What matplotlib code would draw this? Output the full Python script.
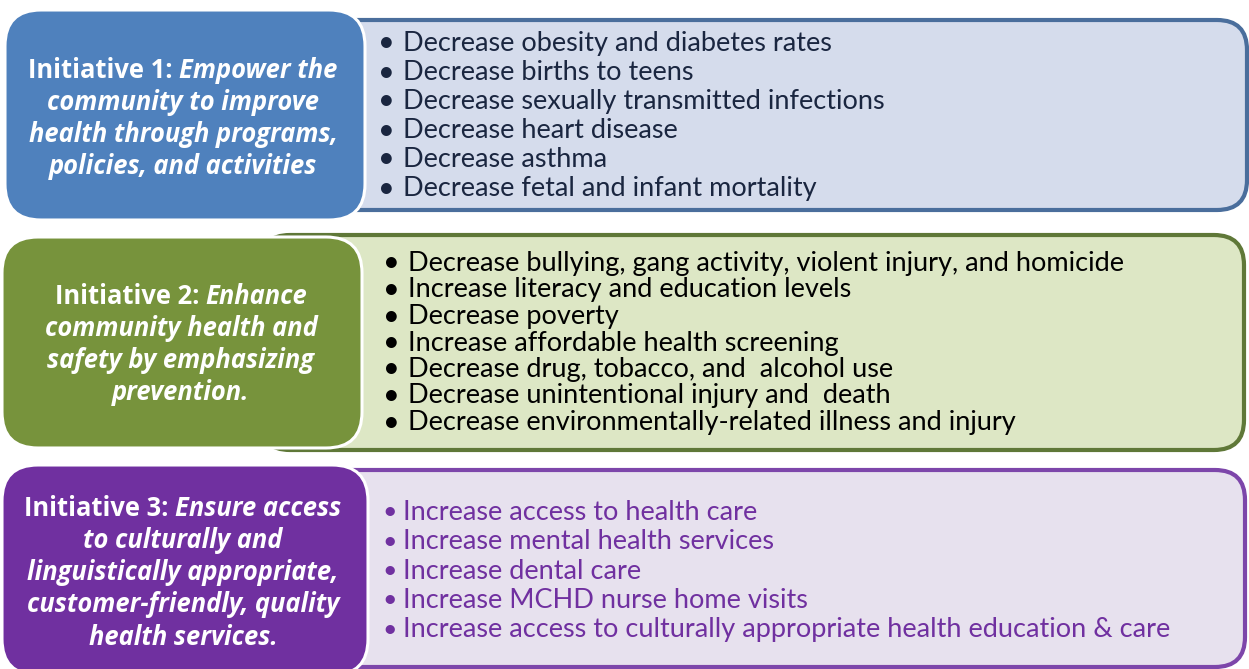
import matplotlib
matplotlib.use("Agg")
import matplotlib.pyplot as plt
from matplotlib.patches import FancyBboxPatch

W, H = 1249, 669

# initiative titles: (bold lead, bold-italic rest split into lines)
titles = [
    ["Initiative 1: |Empower the", "community to improve", "health through programs,", "policies, and activities"],
    ["Initiative 2: |Enhance", "community health and", "safety by emphasizing", "prevention."],
    ["Initiative 3: |Ensure access", "to culturally and", "linguistically appropriate,",
     "customer-friendly, quality", "health services."],
]

goals_1 = [
    "Decrease obesity and diabetes rates",
    "Decrease births to teens",
    "Decrease sexually transmitted infections",
    "Decrease heart disease",
    "Decrease asthma",
    "Decrease fetal and infant mortality",
]
goals_2 = [
    "Decrease bullying, gang activity, violent injury, and homicide",
    "Increase literacy and education levels",
    "Decrease poverty",
    "Increase affordable health screening",
    "Decrease drug, tobacco, and  alcohol use",
    "Decrease unintentional injury and  death",
    "Decrease environmentally-related illness and injury",
]
goals_3 = [
    "Increase access to health care",
    "Increase mental health services",
    "Increase dental care",
    "Increase MCHD nurse home visits",
    "Increase access to culturally appropriate health education & care",
]
goals = [goals_1, goals_2, goals_3]

# layout / styling per row (panel starts behind the left box so its left corners are hidden)
rows = [
    dict(left=(5, 10, 360, 210), panel=(260, 20, 987, 190),
         box="#4f81bd", fill="#d5dcec", edge="#4a6e9c", txt="#1a2640",
         title_y=67, title_dy=32, title_x=183,
         goal_y=41, goal_dy=29, bx=386, tx=403, bsize=21),
    dict(left=(2, 237, 360, 211), panel=(260, 235, 984, 215),
         box="#77933c", fill="#dde7c5", edge="#5f7838", txt="#000000",
         title_y=294, title_dy=32, title_x=181,
         goal_y=261, goal_dy=26.5, bx=391, tx=408, bsize=21),
    dict(left=(2, 465, 366, 210), panel=(260, 470, 985, 197),
         box="#7030a0", fill="#e7e1ee", edge="#7d46aa", txt="#7030a0",
         title_y=505, title_dy=32.3, title_x=183,
         goal_y=510, goal_dy=29.3, bx=390, tx=403, bsize=18),
]

GOAL_FONT = "Lato"
TITLE_FONT = "Open Sans"
GOAL_SIZE = 19.5
TITLE_SIZE = 18.4

fig = plt.figure(figsize=(W / 100, H / 100), dpi=100)
ax = fig.add_axes([0, 0, 1, 1])
ax.set_xlim(0, W)
ax.set_ylim(H, 0)
ax.axis("off")
renderer = fig.canvas.get_renderer()

for r, title, items in zip(rows, titles, goals):
    px, py, pw, ph = r["panel"]
    ax.add_patch(FancyBboxPatch((px, py), pw, ph,
                                boxstyle="round,pad=0,rounding_size=30",
                                fc=r["fill"], ec=r["edge"], lw=3.0, zorder=1))
    lx, ly, lw_, lh = r["left"]
    ax.add_patch(FancyBboxPatch((lx, ly), lw_, lh,
                                boxstyle="round,pad=0,rounding_size=36",
                                fc=r["box"], ec="white", lw=2.2, zorder=2))

    # title lines, centred, first line mixes bold and bold italic
    for i, line in enumerate(title):
        y = r["title_y"] + i * r["title_dy"]
        if "|" in line:
            lead, rest = line.split("|")
            t1 = ax.text(0, y, lead, fontsize=TITLE_SIZE, family=TITLE_FONT, weight="bold",
                         color="white", ha="left", va="center_baseline", zorder=3)
            t2 = ax.text(0, y, rest, fontsize=TITLE_SIZE, family=TITLE_FONT, weight="bold",
                         style="italic", color="white", ha="left",
                         va="center_baseline", zorder=3)
            w1 = t1.get_window_extent(renderer).width
            w2 = t2.get_window_extent(renderer).width
            x0 = r["title_x"] - (w1 + w2) / 2
            t1.set_x(x0)
            t2.set_x(x0 + w1)
        else:
            ax.text(r["title_x"], y, line, fontsize=TITLE_SIZE, family=TITLE_FONT,
                    weight="bold", style="italic", color="white",
                    ha="center", va="center_baseline", zorder=3)

    for i, g in enumerate(items):
        y = r["goal_y"] + i * r["goal_dy"]
        ax.text(r["bx"], y, "\u2022", fontsize=r["bsize"], family=GOAL_FONT,
                color=r["txt"], ha="center", va="center_baseline", zorder=3)
        ax.text(r["tx"], y, g, fontsize=GOAL_SIZE, family=GOAL_FONT,
                color=r["txt"], ha="left", va="center_baseline", zorder=3)

fig.savefig("out.png", dpi=100, facecolor="white")
